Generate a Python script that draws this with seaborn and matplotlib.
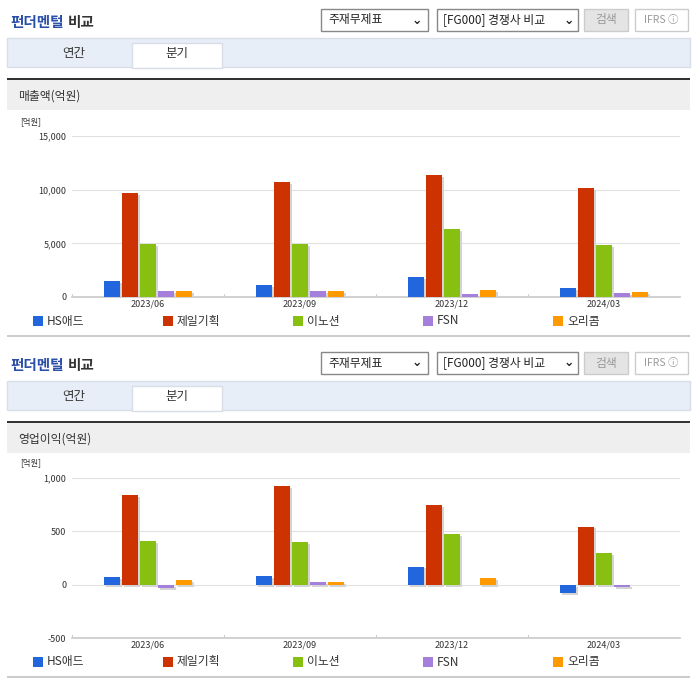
import numpy as np
import pandas as pd
import seaborn as sns
import matplotlib.pyplot as plt
from matplotlib.patches import Rectangle

sns.set_theme(style="white")
plt.rcParams['font.family'] = ['Noto Sans CJK KR', 'DejaVu Sans']

quarters = ['2023/06', '2023/09', '2023/12', '2024/03']
companies = ['HS애드', '제일기획', '이노션', 'FSN', '오리콤']
colors = ['#2266dd', '#cc3300', '#88c011', '#a57fdc', '#ff9900']

sales = {
    'HS애드': [1500, 1100, 1850, 800],
    '제일기획': [9700, 10700, 11350, 10150],
    '이노션': [4950, 4950, 6300, 4850],
    'FSN': [550, 550, 250, 350],
    '오리콤': [550, 550, 650, 450],
}
op_income = {
    'HS애드': [70, 80, 170, -80],
    '제일기획': [840, 925, 750, 545],
    '이노션': [410, 400, 475, 300],
    'FSN': [-30, 25, 0, -20],
    '오리콤': [45, 25, 60, 0],
}

W, H = 696, 684
fig = plt.figure(figsize=(W / 100, H / 100), dpi=100)


def px_ax(x0, y0, x1, y1):
    return fig.add_axes([x0 / W, 1 - y1 / H, (x1 - x0) / W, (y1 - y0) / H])


def rect(x0, y0, x1, y1, fc, ec='none', lw=1):
    fig.patches.append(Rectangle((x0 / W, 1 - y1 / H), (x1 - x0) / W, (y1 - y0) / H,
                                 transform=fig.transFigure, fc=fc, ec=ec, lw=lw))


def txt(x, y, s, **kw):
    fig.text(x / W, 1 - y / H, s, va='center', **kw)


def header(dy, section):
    txt(10, 22 + dy, '펀더멘털', color='#2a4fa8', fontsize=10.5, weight='bold')
    txt(68, 22 + dy, '비교', color='#333333', fontsize=10.5, weight='bold')
    rect(321, 9 + dy, 428, 31 + dy, 'white', '#888888')
    txt(328, 20 + dy, '주재무제표', fontsize=8.5, color='#222222')
    txt(412, 20 + dy, '⌄', fontsize=9, color='#222222', weight='bold')
    rect(437, 9 + dy, 578, 31 + dy, 'white', '#888888')
    txt(443, 20 + dy, '[FG000] 경쟁사 비교', fontsize=8.5, color='#222222')
    txt(564, 20 + dy, '⌄', fontsize=9, color='#222222', weight='bold')
    rect(584, 9 + dy, 628, 31 + dy, '#e4e4e4', '#cccccc')
    txt(606, 20 + dy, '검색', fontsize=8.5, color='#999999', ha='center')
    rect(635, 9 + dy, 688, 31 + dy, 'white', '#cccccc')
    txt(661, 20 + dy, 'IFRS ⓘ', fontsize=7.5, color='#999999', ha='center')
    rect(7, 38 + dy, 690, 67 + dy, '#e8eef7', '#d8dde8')
    rect(132, 43 + dy, 222, 68 + dy, 'white', '#d8dde8')
    txt(74, 54 + dy, '연간', fontsize=9, color='#333333', ha='center')
    txt(177, 54 + dy, '분기', fontsize=9, color='#333333', ha='center')
    rect(7, 78 + dy, 690, 80 + dy, '#333333')
    rect(7, 80 + dy, 690, 110 + dy, '#efefef')
    txt(18, 96 + dy, section, fontsize=8.5, color='#333333')


def chart(data, y0, y1, ylo, yhi, ticks, dy):
    ax = px_ax(72, y0, 680, y1)
    df = pd.DataFrame([(q, c, data[c][i]) for c in companies for i, q in enumerate(quarters)],
                      columns=['q', 'c', 'v'])
    sns.barplot(data=df, x='q', y='v', hue='c', palette=colors, width=0.59, gap=0.12,
                ax=ax, legend=False, saturation=1, edgecolor='none', zorder=3)
    # soft grey shadow behind bars
    for p in list(ax.patches):
        ax.add_patch(Rectangle((p.get_x() + 0.012, p.get_y() - (yhi - ylo) * 0.012),
                               p.get_width(), p.get_height(), fc='#d4d4d4', ec='none', zorder=2))
    ax.set_ylim(ylo, yhi)
    ax.set_xlim(-0.5, 3.5)
    ax.set_yticks(ticks)
    ax.set_yticklabels([f'{t:,}' for t in ticks], fontsize=6.5, color='#333333')
    ax.tick_params(axis='x', labelsize=6.5, colors='#333333', length=0, pad=2)
    ax.tick_params(axis='y', length=0, pad=4)
    ax.grid(axis='y', color='#e0e0e0', lw=0.8, zorder=0)
    ax.set_xlabel('')
    ax.set_ylabel('')
    for s in ['top', 'right', 'left']:
        ax.spines[s].set_visible(False)
    ax.spines['bottom'].set_color('#cccccc')
    for xv in [-0.5, 0.5, 1.5, 2.5, 3.5]:
        ax.axvline(xv, ymin=0, ymax=0.02, color='#cccccc', lw=0.8)
    txt(20, 122 + dy, '[억원]', fontsize=6, color='#333333')
    lx = [33, 163, 293, 423, 553]
    for x, c, col in zip(lx, companies, colors):
        rect(x, 316 + dy, x + 10, 326 + dy, col)
        txt(x + 14, 321 + dy, c, fontsize=8.5, color='#333333')
    rect(7, 335 + dy, 690, 337 + dy, '#cccccc')


header(0, '매출액(억원)')
chart(sales, 136, 297, 0, 15000, [0, 5000, 10000, 15000], 0)
header(343, '영업이익(억원)')
chart(op_income, 478, 638, -500, 1000, [-500, 0, 500, 1000], 341)

fig.savefig('out.png', dpi=100)
